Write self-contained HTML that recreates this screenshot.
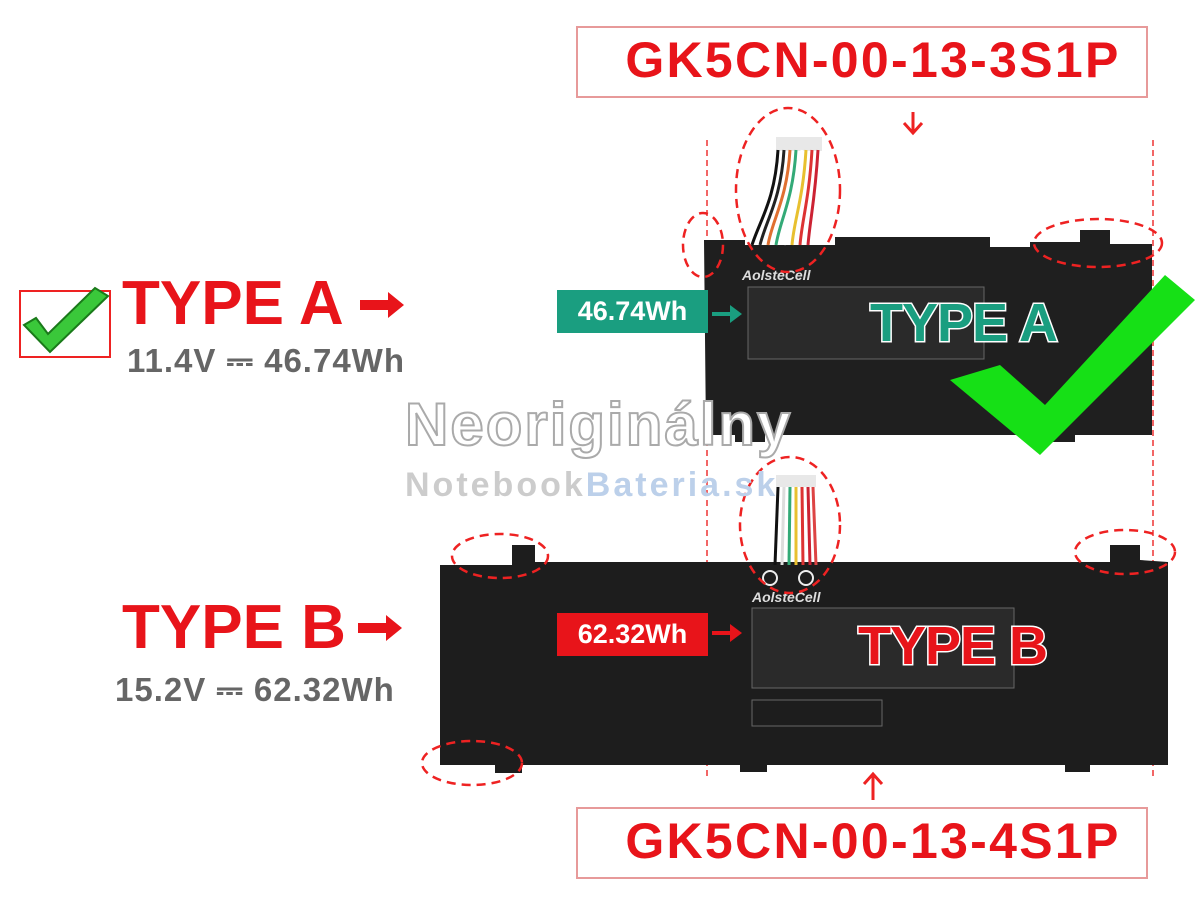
<!DOCTYPE html>
<html><head><meta charset="utf-8"><style>
body{margin:0;width:1200px;height:900px;background:#fff;position:relative;overflow:hidden;font-family:"Liberation Sans",sans-serif}
.a{position:absolute;white-space:nowrap}
.box{position:absolute;border:2px solid #e79a9a;background:#fff}
.big{font-weight:bold;color:#e8141a}
</style></head><body>
<svg class="a" style="left:0;top:0" width="1200" height="900">
 <line x1="707" y1="140" x2="707" y2="780" stroke="#e33" stroke-width="1.5" stroke-dasharray="6,4"/>
 <line x1="1153" y1="140" x2="1153" y2="780" stroke="#e33" stroke-width="1.5" stroke-dasharray="6,4"/>
 <path d="M704 240 L745 240 L745 245 L835 245 L835 237 L990 237 L990 247 L1030 247 L1030 242 L1080 242 L1080 230 L1110 230 L1110 244 L1152 244 L1152 435 L1075 435 L1075 442 L1035 442 L1035 435 L765 435 L765 442 L735 442 L735 435 L706 435 Z" fill="#1f1f1f"/>
 <rect x="748" y="287" width="236" height="72" fill="#2a2a2a" stroke="#666"/>
 <text x="742" y="280" fill="#ddd" font-size="14" font-weight="bold" font-style="italic" font-family="Liberation Sans">AolsteCell</text>
 <rect x="776" y="137" width="46" height="14" fill="#e8e8e8"/>
 <g stroke-width="3" fill="none">
  <path d="M778 150 C775 200 760 220 752 245" stroke="#111"/>
  <path d="M784 150 C781 200 766 220 760 245" stroke="#222"/>
  <path d="M790 150 C787 200 772 220 768 245" stroke="#e07030"/>
  <path d="M796 150 C793 200 780 220 776 245" stroke="#3a7"/>
  <path d="M802 150 C799 200 788 220 784 245" stroke="#fff"/>
  <path d="M806 150 C803 200 794 220 792 245" stroke="#e8c030"/>
  <path d="M812 150 C809 200 802 220 800 245" stroke="#d33"/>
  <path d="M818 150 C815 200 810 220 808 245" stroke="#c23"/>
 </g>
 <path d="M440 565 L512 565 L512 545 L535 545 L535 562 L1110 562 L1110 545 L1140 545 L1140 560 L1168 562 L1168 765 L1090 765 L1090 772 L1065 772 L1065 765 L767 765 L767 772 L740 772 L740 765 L522 765 L522 773 L495 773 L495 765 L440 765 Z" fill="#1d1d1d"/>
 <rect x="752" y="608" width="262" height="80" fill="#2a2a2a" stroke="#666"/>
 <rect x="752" y="700" width="130" height="26" fill="none" stroke="#666"/>
 <text x="752" y="602" fill="#ddd" font-size="14" font-weight="bold" font-style="italic" font-family="Liberation Sans">AolsteCell</text>
 <rect x="776" y="475" width="40" height="12" fill="#e8e8e8"/>
 <g stroke-width="3" fill="none">
  <path d="M778 487 L775 565" stroke="#111"/><path d="M784 487 L782 565" stroke="#ddd"/>
  <path d="M790 487 L789 565" stroke="#3a7"/><path d="M796 487 L796 565" stroke="#e8c030"/>
  <path d="M802 487 L803 565" stroke="#d33"/><path d="M808 487 L810 565" stroke="#c23"/>
  <path d="M813 487 L816 565" stroke="#d44"/>
 </g>
 <circle cx="770" cy="578" r="7" fill="none" stroke="#eee" stroke-width="2"/><circle cx="806" cy="578" r="7" fill="none" stroke="#eee" stroke-width="2"/>
 <g fill="none" stroke="#e22" stroke-width="2.5" stroke-dasharray="9,6">
  <ellipse cx="788" cy="190" rx="52" ry="82"/>
  <ellipse cx="703" cy="245" rx="20" ry="32"/>
  <ellipse cx="1098" cy="243" rx="64" ry="24"/>
  <ellipse cx="790" cy="525" rx="50" ry="68"/>
  <ellipse cx="500" cy="556" rx="48" ry="22"/>
  <ellipse cx="1125" cy="552" rx="50" ry="22"/>
  <ellipse cx="472" cy="763" rx="50" ry="22"/>
 </g>
 <path d="M950 380 L1000 365 L1045 405 L1165 275 L1195 300 L1040 455 Z" fill="#16e016"/>
 <path d="M913 112 L913 132 M904 123 L913 133 L922 123" stroke="#e22" stroke-width="3" fill="none"/>
 <path d="M873 800 L873 775 M864 784 L873 774 L882 784" stroke="#e22" stroke-width="3" fill="none"/>
 <path d="M360 300 L388 300 L388 292 L404 305 L388 318 L388 310 L360 310 Z" fill="#e8141a"/>
 <path d="M358 623 L386 623 L386 615 L402 628 L386 641 L386 633 L358 633 Z" fill="#e8141a"/>
 <path d="M712 312 L730 312 L730 305 L742 314 L730 323 L730 316 L712 316 Z" fill="#1a9e80"/>
 <path d="M712 631 L730 631 L730 624 L742 633 L730 642 L730 635 L712 635 Z" fill="#e8141a"/>
 <rect x="20" y="291" width="90" height="66" fill="#fff" stroke="#e22" stroke-width="2"/>
 <path d="M24 325 L36 318 L48 334 L95 288 L108 296 L50 352 Z" fill="#3ac83a" stroke="#1a7a1a" stroke-width="2"/>
</svg>
<div class="box" style="left:576px;top:26px;width:568px;height:68px"></div>
<div class="a big" style="left:587px;top:31px;width:572px;text-align:center;font-size:50px;letter-spacing:2.3px">GK5CN-00-13-3S1P</div>
<div class="box" style="left:576px;top:807px;width:568px;height:68px"></div>
<div class="a big" style="left:587px;top:812px;width:572px;text-align:center;font-size:50px;letter-spacing:2.3px">GK5CN-00-13-4S1P</div>
<div class="a big" style="left:122px;top:268px;font-size:62px">TYPE A</div>
<div class="a" style="left:127px;top:342px;font-size:33px;font-weight:bold;color:#666;letter-spacing:1px">11.4V ⎓ 46.74Wh</div>
<div class="a big" style="left:122px;top:592px;font-size:62px">TYPE B</div>
<div class="a" style="left:115px;top:671px;font-size:33px;font-weight:bold;color:#666;letter-spacing:1px">15.2V ⎓ 62.32Wh</div>
<div class="a" style="left:405px;top:390px;font-size:60px;font-weight:bold;color:#fff;-webkit-text-stroke:2px #aaa;letter-spacing:2px">Neoriginálny</div>
<div class="a" style="left:405px;top:466px;font-size:34px;font-weight:bold;color:#ccc;letter-spacing:3px">Notebook<span style="color:#bcd0ea">Bateria.sk</span></div>
<div class="a" style="left:557px;top:290px;width:151px;height:43px;background:#1a9e80;color:#fff;font-weight:bold;font-size:27px;line-height:43px;text-align:center">46.74Wh</div>
<div class="a" style="left:557px;top:613px;width:151px;height:43px;background:#e8141a;color:#fff;font-weight:bold;font-size:27px;line-height:43px;text-align:center">62.32Wh</div>
<div class="a" style="left:870px;top:292px;font-size:54px;font-weight:bold;color:#1a9e80;-webkit-text-stroke:3px #fff;paint-order:stroke fill;letter-spacing:-1px">TYPE A</div>
<div class="a" style="left:858px;top:615px;font-size:54px;font-weight:bold;color:#e8141a;-webkit-text-stroke:3px #fff;paint-order:stroke fill;letter-spacing:-1px">TYPE B</div>
</body></html>
